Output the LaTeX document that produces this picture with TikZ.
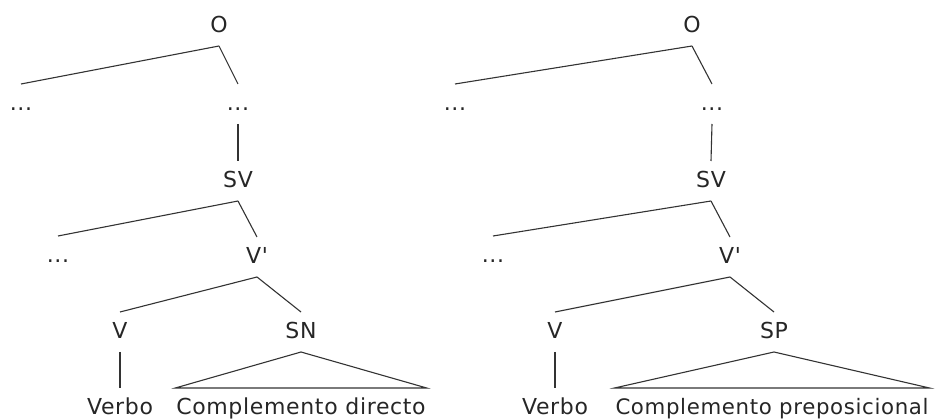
\documentclass[tikz,border=0pt]{standalone}
\usepackage{fontspec}
\setmainfont{DejaVu Sans}[LetterSpace=3, Ligatures=TeXOff]
\begin{document}
\begin{tikzpicture}[x=1pt, y=-1pt,
  lbl/.style={inner sep=0pt, outer xsep=1pt, outer ysep=11pt,
    text height=16pt, text depth=2pt, anchor=base, text=black!85,
    font=\fontsize{22}{24}\selectfont},
  edge/.style={draw=black!80, line width=1.1pt}]
\useasboundingbox (0,0) rectangle (943,419);

% Left tree: direct object
\node[lbl] (lO)   at (219,33)  {O};
\node[lbl] (la1)  at (21,111)  {...};
\node[lbl] (la2)  at (238,111) {...};
\node[lbl] (lSV)  at (238,188) {SV};
\node[lbl] (lb1)  at (58,263)  {...};
\node[lbl] (lVb)  at (257,264) {V'};
\node[lbl] (lV)   at (120,339) {V};
\node[lbl] (lSN)  at (301,339) {SN};
\node[lbl] (lVer) at (120,415) {Verbo};
\node[lbl] (lCd)  at (301,415) {Complemento directo};

\draw[edge] (lO.south) -- (la1.north);
\draw[edge] (lO.south) -- (la2.north);
\draw[edge] (la2.south) -- (lSV.north);
\draw[edge] (lSV.south) -- (lb1.north);
\draw[edge] (lSV.south) -- (lVb.north);
\draw[edge] (lVb.south) -- (lV.north);
\draw[edge] (lVb.south) -- (lSN.north);
\draw[edge] (lV.south) -- (lVer.north);
\draw[edge, line join=miter] (lSN.south) -- (lCd.north west) -- (lCd.north east) -- cycle;

% Right tree: prepositional complement
\node[lbl] (rO)   at (692,33)  {O};
\node[lbl] (ra1)  at (455,111) {...};
\node[lbl] (ra2)  at (712,111) {...};
\node[lbl] (rSV)  at (711,188) {SV};
\node[lbl] (rb1)  at (493,263) {...};
\node[lbl] (rVb)  at (730,264) {V'};
\node[lbl] (rV)   at (555,339) {V};
\node[lbl] (rSP)  at (774,339) {SP};
\node[lbl] (rVer) at (555,415) {Verbo};
\node[lbl, font=\fontsize{21.3}{24}\selectfont] (rCp) at (772,415) {Complemento preposicional};

\draw[edge] (rO.south) -- (ra1.north);
\draw[edge] (rO.south) -- (ra2.north);
\draw[edge] (ra2.south) -- (rSV.north);
\draw[edge] (rSV.south) -- (rb1.north);
\draw[edge] (rSV.south) -- (rVb.north);
\draw[edge] (rVb.south) -- (rV.north);
\draw[edge] (rVb.south) -- (rSP.north);
\draw[edge] (rV.south) -- (rVer.north);
\draw[edge, line join=miter] (rSP.south) -- (rCp.north west) -- (rCp.north east) -- cycle;
\end{tikzpicture}
\end{document}
